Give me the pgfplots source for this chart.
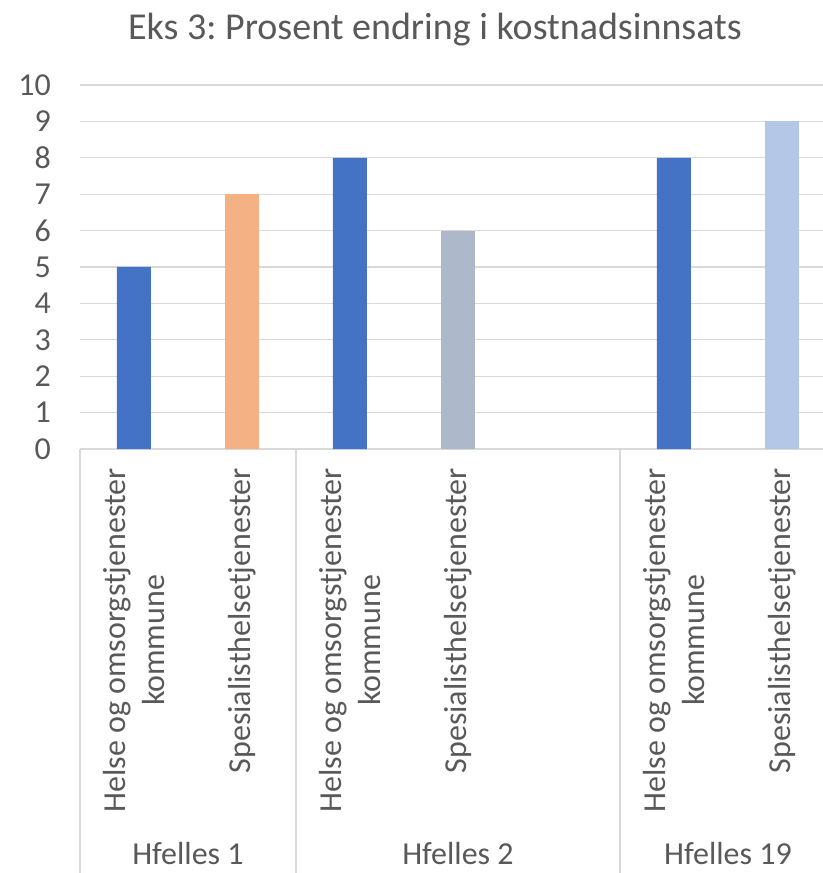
\documentclass[border=0pt]{standalone}
\usepackage{pgfplots}
\pgfplotsset{compat=1.18}
\usepackage{fontspec}
\setmainfont{Carlito}
\frenchspacing
\definecolor{txt}{HTML}{595959}
\definecolor{gridc}{HTML}{D9D9D9}
\definecolor{b1}{HTML}{4472C4}
\definecolor{orc}{HTML}{F4B183}
\definecolor{gb}{HTML}{ADB9CA}
\definecolor{lb}{HTML}{B4C7E7}
\begin{document}
\frenchspacing
\begin{tikzpicture}
\path[use as bounding box] (0,0) rectangle (823bp,873bp);
\node[anchor=base, font=\fontsize{38bp}{46bp}\selectfont, text=txt] at (435bp,833bp) {Eks 3: Prosent endring i kostnadsinnsats};
\begin{axis}[at={(80bp,424bp)}, anchor=south west, scale only axis,
  width=743bp, height=364bp,
  xmin=-0.5, xmax=6.38, ymin=0, ymax=10,
  ytick={0,...,10}, xtick={0,...,6},
  xticklabels={{Helse og omsorgstjenester\\kommune},Spesialisthelsetjenester,{Helse og omsorgstjenester\\kommune},Spesialisthelsetjenester,{},{Helse og omsorgstjenester\\kommune},Spesialisthelsetjenester},
  axis lines*=left,
  y axis line style={draw=none},
  x axis line style={draw=gridc, line width=1.2bp},
  ymajorgrids, grid style={draw=gridc, line width=1.2bp},
  major tick length=0pt,
  tick label style={font=\fontsize{32bp}{39bp}\selectfont, text=txt},
  yticklabel style={inner sep=0pt, anchor=east, xshift=-29bp},
  xticklabel style={rotate=90, anchor=east, inner sep=0pt, align=center},
  xticklabel shift=19bp,
  clip=false,
  /pgf/number format/assume math mode=true,
]
\addplot[ybar, bar width=34bp, fill=b1, draw=none] coordinates {(0,5) (2,8) (5,8)};
\addplot[ybar, bar width=34bp, fill=orc, draw=none] coordinates {(1,7)};
\addplot[ybar, bar width=34bp, fill=gb, draw=none] coordinates {(3,6)};
\addplot[ybar, bar width=34bp, fill=lb, draw=none] coordinates {(6,9)};
\draw[gridc, line width=1.2bp] (axis cs:-0.5,0) -- ([yshift=-430bp]axis cs:-0.5,0);
\draw[gridc, line width=1.2bp] (axis cs:1.5,0) -- ([yshift=-430bp]axis cs:1.5,0);
\draw[gridc, line width=1.2bp] (axis cs:4.5,0) -- ([yshift=-430bp]axis cs:4.5,0);
\node[anchor=base, font=\fontsize{32bp}{39bp}\selectfont, text=txt] at ([yshift=-415bp]axis cs:0.5,0) {Hfelles 1};
\node[anchor=base, font=\fontsize{32bp}{39bp}\selectfont, text=txt] at ([yshift=-415bp]axis cs:3,0) {Hfelles 2};
\node[anchor=base, font=\fontsize{32bp}{39bp}\selectfont, text=txt] at ([yshift=-415bp]axis cs:5.5,0) {Hfelles 19};
\end{axis}
\end{tikzpicture}
\end{document}
